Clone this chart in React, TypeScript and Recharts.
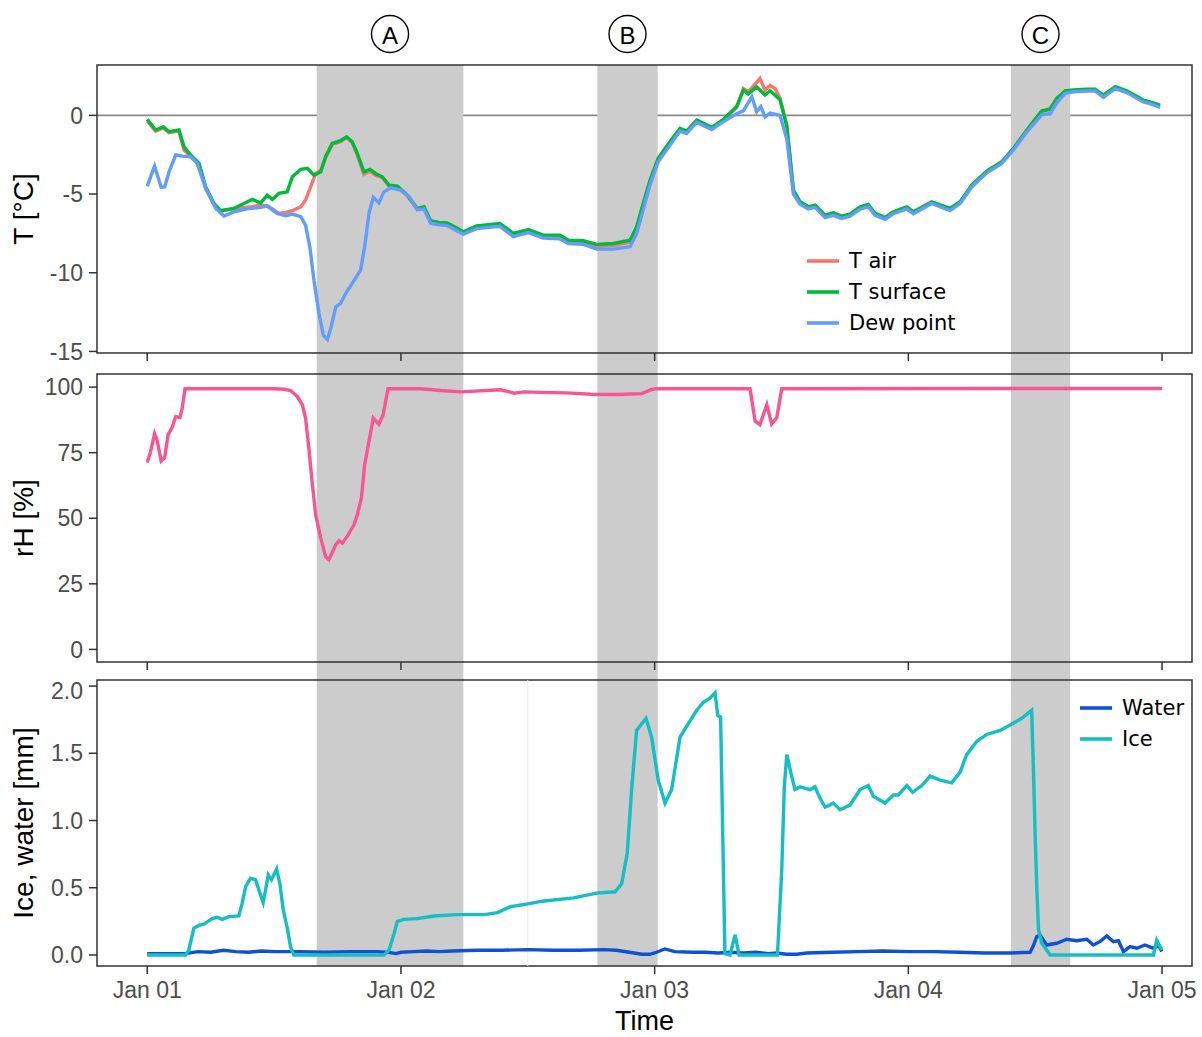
import React from 'react';
import { LineChart, Line, XAxis, YAxis, ReferenceArea, ReferenceLine, Legend } from 'recharts';

// ---------- data ----------
const dayTicks = [0, 1, 2, 3, 4];
const dayLabels = ['Jan 01', 'Jan 02', 'Jan 03', 'Jan 04', 'Jan 05'];
const tempTicks = [-15, -10, -5, 0];
const rhTicks = [0, 25, 50, 75, 100];
const iceTicks = [0, 0.5, 1, 1.5, 2];

const eventNames = ['A', 'B', 'C'];
const eventStart = [0.668, 1.774, 3.404];
const eventEnd = [1.246, 2.012, 3.638];

const tempSeriesNames = ['T air', 'T surface', 'Dew point'];
const depthSeriesNames = ['Water', 'Ice'];

const tSurface: [number, number][] = [
  [0, -0.25], [0.033, -0.93], [0.063, -0.72], [0.086, -1.04], [0.125, -0.93], [0.145, -2.0], [0.171, -2.52],
  [0.204, -3.05], [0.23, -4.54], [0.263, -5.6], [0.289, -6.06], [0.342, -5.91], [0.381, -5.6], [0.414, -5.34],
  [0.447, -5.56], [0.473, -5.07], [0.493, -5.34], [0.519, -4.96], [0.552, -4.86], [0.572, -3.9], [0.605, -3.43],
  [0.631, -3.37], [0.657, -3.8], [0.684, -3.59], [0.703, -2.63], [0.729, -1.78], [0.762, -1.61], [0.786, -1.36],
  [0.808, -1.68], [0.828, -2.42], [0.854, -3.59], [0.878, -3.43], [0.9, -3.69], [0.926, -3.9], [0.953, -4.43],
  [0.986, -4.49], [1.025, -5.07], [1.064, -5.91], [1.091, -5.81], [1.117, -6.7], [1.15, -6.8], [1.182, -6.83],
  [1.222, -7.18], [1.246, -7.4], [1.298, -7.02], [1.39, -6.87], [1.443, -7.5], [1.502, -7.25], [1.561, -7.61],
  [1.627, -7.61], [1.66, -7.93], [1.719, -7.97], [1.772, -8.2], [1.837, -8.14], [1.903, -7.93], [1.929, -7.08],
  [1.955, -5.6], [1.982, -4.11], [2.014, -2.73], [2.06, -1.68], [2.1, -0.83], [2.126, -1.0], [2.166, -0.3],
  [2.225, -0.76], [2.271, -0.25], [2.323, 0.55], [2.35, 1.61], [2.369, 1.35], [2.402, 1.82], [2.435, 1.29],
  [2.455, 1.56], [2.494, 1.0], [2.521, -0.72], [2.547, -4.75], [2.573, -5.49], [2.606, -5.81], [2.632, -5.7],
  [2.672, -6.34], [2.704, -6.19], [2.737, -6.4], [2.77, -6.27], [2.81, -5.81], [2.842, -5.66], [2.869, -6.23],
  [2.908, -6.48], [2.941, -6.13], [2.994, -5.81], [3.02, -6.13], [3.092, -5.49], [3.164, -5.91], [3.204, -5.49],
  [3.25, -4.43], [3.309, -3.54], [3.368, -2.95], [3.414, -2.1], [3.467, -0.93], [3.526, 0.29], [3.559, 0.38],
  [3.585, 1.08], [3.618, 1.56], [3.65, 1.61], [3.703, 1.67], [3.736, 1.67], [3.769, 1.29], [3.815, 1.82],
  [3.861, 1.56], [3.926, 0.97], [3.953, 0.86], [3.992, 0.65],
];

const tAir: [number, number][] = [
  [0, -0.35], [0.033, -1.0], [0.063, -0.8], [0.086, -1.1], [0.125, -1.0], [0.145, -2.2], [0.171, -2.6],
  [0.204, -3.1], [0.23, -4.6], [0.263, -5.65], [0.289, -6.06], [0.342, -5.95], [0.381, -5.85], [0.414, -5.8],
  [0.447, -5.7], [0.473, -5.75], [0.493, -5.95], [0.519, -6.23], [0.552, -6.15], [0.572, -6.06], [0.605, -5.81],
  [0.624, -5.38], [0.644, -4.54], [0.664, -3.69], [0.684, -3.5], [0.703, -2.7], [0.729, -1.85], [0.762, -1.68],
  [0.786, -1.4], [0.808, -1.75], [0.828, -2.5], [0.854, -3.75], [0.878, -3.55], [0.9, -3.8], [0.926, -3.95],
  [0.953, -4.5], [0.986, -4.55], [1.025, -5.1], [1.064, -5.95], [1.091, -5.85], [1.117, -6.75], [1.15, -6.85],
  [1.182, -6.88], [1.222, -7.22], [1.246, -7.45], [1.298, -7.07], [1.39, -6.92], [1.443, -7.55], [1.502, -7.32],
  [1.561, -7.68], [1.627, -7.7], [1.66, -8.02], [1.719, -8.05], [1.772, -8.32], [1.837, -8.28], [1.903, -8.05],
  [1.929, -7.2], [1.955, -5.7], [1.982, -4.15], [2.014, -2.78], [2.06, -1.72], [2.1, -0.88], [2.126, -1.05],
  [2.166, -0.35], [2.225, -0.8], [2.271, -0.3], [2.323, 0.5], [2.35, 1.7], [2.369, 1.5], [2.402, 2.1],
  [2.415, 2.35], [2.435, 1.6], [2.455, 1.9], [2.475, 1.7], [2.494, 1.1], [2.521, -0.6], [2.547, -4.8],
  [2.573, -5.52], [2.606, -5.84], [2.632, -5.74], [2.672, -6.38], [2.704, -6.22], [2.737, -6.44], [2.77, -6.3],
  [2.81, -5.85], [2.842, -5.7], [2.869, -6.27], [2.908, -6.52], [2.941, -6.17], [2.994, -5.85], [3.02, -6.17],
  [3.092, -5.53], [3.164, -5.95], [3.204, -5.53], [3.25, -4.47], [3.309, -3.58], [3.368, -2.99], [3.414, -2.14],
  [3.467, -0.97], [3.526, 0.25], [3.559, 0.45], [3.585, 1.04], [3.618, 1.52], [3.65, 1.57], [3.703, 1.63],
  [3.736, 1.63], [3.769, 1.25], [3.815, 1.78], [3.861, 1.52], [3.926, 0.93], [3.953, 0.82], [3.992, 0.61],
];

const dewPoint: [number, number][] = [
  [0, -4.5], [0.029, -3.22], [0.055, -4.58], [0.069, -4.54], [0.086, -3.59], [0.112, -2.52], [0.138, -2.59],
  [0.171, -2.63], [0.197, -3.05], [0.23, -4.64], [0.27, -5.91], [0.302, -6.4], [0.342, -6.13], [0.394, -5.94],
  [0.447, -5.85], [0.473, -5.77], [0.512, -6.23], [0.546, -6.38], [0.572, -6.27], [0.605, -6.44], [0.624, -6.97],
  [0.641, -8.35], [0.657, -10.47], [0.677, -12.59], [0.694, -13.97], [0.71, -14.24], [0.725, -13.44],
  [0.743, -12.17], [0.762, -11.95], [0.782, -11.32], [0.808, -10.68], [0.841, -9.83], [0.857, -8.35],
  [0.874, -6.23], [0.891, -5.21], [0.913, -5.56], [0.933, -4.86], [0.96, -4.6], [0.999, -4.75], [1.032, -5.17],
  [1.064, -6.0], [1.091, -5.95], [1.117, -6.85], [1.15, -6.95], [1.182, -7.0], [1.222, -7.35], [1.246, -7.55],
  [1.298, -7.2], [1.39, -7.05], [1.443, -7.7], [1.502, -7.45], [1.561, -7.8], [1.627, -7.85], [1.66, -8.15],
  [1.719, -8.2], [1.772, -8.5], [1.837, -8.5], [1.903, -8.35], [1.929, -7.5], [1.955, -6.0], [1.982, -4.4],
  [2.014, -2.95], [2.06, -1.9], [2.1, -1.0], [2.126, -1.15], [2.166, -0.45], [2.225, -0.9], [2.271, -0.4],
  [2.323, 0.1], [2.35, 0.3], [2.383, 1.18], [2.402, 0.23], [2.418, 0.55], [2.435, -0.09], [2.455, 0.15],
  [2.494, 0.0], [2.521, -1.5], [2.547, -5.0], [2.573, -5.65], [2.606, -5.95], [2.632, -5.85], [2.672, -6.5],
  [2.704, -6.35], [2.737, -6.55], [2.77, -6.4], [2.81, -5.95], [2.842, -5.8], [2.869, -6.35], [2.908, -6.6],
  [2.941, -6.25], [2.994, -5.95], [3.02, -6.25], [3.092, -5.6], [3.164, -6.05], [3.204, -5.6], [3.25, -4.55],
  [3.309, -3.65], [3.368, -3.05], [3.414, -2.2], [3.467, -1.05], [3.526, 0.05], [3.559, 0.1], [3.585, 0.8],
  [3.618, 1.4], [3.65, 1.5], [3.703, 1.55], [3.736, 1.55], [3.769, 1.15], [3.815, 1.7], [3.861, 1.45],
  [3.926, 0.85], [3.953, 0.75], [3.992, 0.5],
];

const relHum: [number, number][] = [
  [0, 71.3], [0.013, 75.3], [0.029, 82.3], [0.039, 79.8], [0.055, 71.8], [0.069, 73.1], [0.082, 81.8],
  [0.099, 84.9], [0.112, 88.8], [0.129, 88.4], [0.138, 92], [0.149, 99.4], [0.499, 99.4], [0.539, 99.2],
  [0.565, 98.7], [0.591, 96.5], [0.611, 93.3], [0.624, 88.2], [0.637, 76.8], [0.651, 62.8], [0.664, 51.3],
  [0.684, 42.4], [0.703, 35.4], [0.716, 34.2], [0.743, 39.9], [0.756, 41.4], [0.769, 40.5], [0.788, 43.1],
  [0.815, 47.5], [0.828, 51.3], [0.844, 57.7], [0.857, 70.4], [0.874, 79.3], [0.891, 88.2], [0.913, 85.9],
  [0.93, 89.5], [0.949, 99.4], [1.078, 99.4], [1.157, 98.7], [1.235, 98.2], [1.393, 99.0], [1.446, 97.7],
  [1.485, 98.2], [1.55, 98.0], [1.65, 97.8], [1.75, 97.3], [1.85, 97.2], [1.95, 97.5], [1.985, 99.0],
  [2.005, 99.4], [2.376, 99.4], [2.396, 87], [2.415, 85.7], [2.442, 93.3], [2.461, 86], [2.481, 88.2],
  [2.501, 99.4], [4.0, 99.5],
];

const iceDepth: [number, number][] = [
  [0, 0], [0.151, 0], [0.164, 0.037], [0.184, 0.2], [0.204, 0.22], [0.224, 0.23], [0.256, 0.27], [0.276, 0.28],
  [0.296, 0.265], [0.322, 0.285], [0.361, 0.29], [0.374, 0.384], [0.388, 0.51], [0.407, 0.57], [0.427, 0.56],
  [0.444, 0.46], [0.457, 0.39], [0.471, 0.53], [0.477, 0.595], [0.49, 0.56], [0.51, 0.64], [0.523, 0.53],
  [0.536, 0.335], [0.552, 0.2], [0.565, 0.06], [0.578, 0], [0.933, 0], [0.953, 0.037], [0.973, 0.16],
  [0.986, 0.25], [1.012, 0.265], [1.064, 0.27], [1.13, 0.29], [1.222, 0.3], [1.327, 0.3], [1.38, 0.315],
  [1.433, 0.36], [1.485, 0.375], [1.557, 0.4], [1.68, 0.425], [1.772, 0.46], [1.844, 0.47], [1.87, 0.53],
  [1.892, 0.756], [1.91, 1.25], [1.929, 1.67], [1.966, 1.76], [1.988, 1.62], [2.014, 1.3], [2.041, 1.13],
  [2.067, 1.23], [2.1, 1.62], [2.126, 1.7], [2.166, 1.82], [2.192, 1.88], [2.218, 1.91], [2.238, 1.95],
  [2.249, 1.78], [2.26, 1.77], [2.277, 0.01], [2.297, 0], [2.317, 0.15], [2.333, 0], [2.484, 0], [2.501, 0.63],
  [2.511, 1.25], [2.521, 1.49], [2.54, 1.33], [2.553, 1.23], [2.573, 1.25], [2.612, 1.23], [2.632, 1.25],
  [2.652, 1.165], [2.672, 1.1], [2.685, 1.11], [2.704, 1.13], [2.731, 1.08], [2.77, 1.115], [2.81, 1.23],
  [2.842, 1.26], [2.862, 1.18], [2.908, 1.13], [2.941, 1.19], [2.96, 1.19], [2.994, 1.26], [3.017, 1.21],
  [3.053, 1.26], [3.086, 1.33], [3.125, 1.3], [3.171, 1.28], [3.204, 1.36], [3.23, 1.49], [3.27, 1.59],
  [3.309, 1.64], [3.362, 1.67], [3.401, 1.71], [3.447, 1.76], [3.486, 1.82], [3.493, 1.375], [3.5, 0.88],
  [3.506, 0.51], [3.513, 0.19], [3.526, 0.087], [3.559, 0], [3.966, 0], [3.979, 0.11], [3.999, 0.037],
];

const waterDepth: [number, number][] = [
  [0, 0.01], [0.15, 0.01], [0.2, 0.025], [0.25, 0.02], [0.3, 0.035], [0.35, 0.025], [0.4, 0.02], [0.45, 0.03],
  [0.5, 0.025], [0.6, 0.025], [0.7, 0.02], [0.8, 0.025], [0.9, 0.025], [0.95, 0.02], [0.98, 0.01], [1.0, 0.02],
  [1.05, 0.025], [1.1, 0.03], [1.15, 0.025], [1.2, 0.03], [1.3, 0.035], [1.4, 0.035], [1.5, 0.04], [1.6, 0.035],
  [1.7, 0.035], [1.8, 0.04], [1.85, 0.035], [1.9, 0.02], [1.95, 0.005], [1.98, 0.005], [2.0, 0.015],
  [2.04, 0.045], [2.08, 0.025], [2.15, 0.02], [2.2, 0.02], [2.25, 0.015], [2.3, 0.02], [2.35, 0.015],
  [2.4, 0.02], [2.45, 0.01], [2.48, 0.015], [2.52, 0.005], [2.56, 0.005], [2.6, 0.015], [2.7, 0.02],
  [2.8, 0.025], [2.9, 0.03], [3.0, 0.025], [3.1, 0.025], [3.2, 0.02], [3.3, 0.015], [3.4, 0.015], [3.48, 0.02],
  [3.493, 0.07], [3.506, 0.136], [3.519, 0.149], [3.545, 0.074], [3.585, 0.087], [3.624, 0.117], [3.663, 0.106],
  [3.703, 0.117], [3.729, 0.074], [3.755, 0.099], [3.782, 0.141], [3.808, 0.099], [3.828, 0.106],
  [3.848, 0.025], [3.874, 0.062], [3.9, 0.05], [3.933, 0.074], [3.966, 0.05], [3.986, 0.074], [3.999, 0.025],
];

// ---------- styling ----------
const X_DOMAIN: [number, number] = [-0.198, 4.118];
const T_DOMAIN: [number, number] = [-15.1, 3.2];
const RH_DOMAIN: [number, number] = [-4.8, 105];
const ICE_DOMAIN: [number, number] = [-0.082, 2.045];
const BAND = '#CCCCCC';
const FRAME = '#333333';
const TICK_FONT = "'Liberation Sans', Arial, sans-serif";
const LEG_FONT = "'DejaVu Sans', Verdana, sans-serif";
const W = 1202;
const YW = 97;
const RIGHT = 10;
const LW = 3.4;

const toPts = (arr: [number, number][]) => arr.map(([t, v]) => ({ t, v }));

const tickStyle = { fill: '#4D4D4D', fontSize: 23, fontFamily: TICK_FONT };
const tickLine = { stroke: FRAME, strokeWidth: 1.5 };

const yTitle = (text: string) => (p: any) => {
  const vb = p.viewBox ?? p;
  const x = vb.x + 33;
  const y = vb.y + vb.height / 2;
  return (
    <text x={x} y={y} transform={`rotate(-90, ${x}, ${y})`} textAnchor="middle"
      fontSize={28} fontFamily={TICK_FONT} fill="#000">{text}</text>
  );
};

const xTitle = (p: any) => {
  const vb = p.viewBox ?? p;
  return (
    <text x={vb.x + vb.width / 2} y={vb.y + 64} textAnchor="middle" fontSize={27}
      fontFamily={TICK_FONT} fill="#000">Time</text>
  );
};

const eventLabel = (text: string) => (p: any) => {
  const vb = p.viewBox ?? p;
  const cx = vb.x + vb.width / 2;
  const cy = vb.y - 31;
  return (
    <g>
      <circle cx={cx} cy={cy} r={18.5} fill="none" stroke="#000" strokeWidth={1.4} />
      <text x={cx} y={cy + 1} textAnchor="middle" dominantBaseline="central" fontSize={24}
        fontFamily={TICK_FONT} fill="#000">{text}</text>
    </g>
  );
};

const makeLegend = (order: string[]) => (props: any) => {
  const payload = [...(props.payload || [])].sort(
    (a: any, b: any) => order.indexOf(a.value) - order.indexOf(b.value));
  return (
    <div style={{ fontFamily: LEG_FONT, fontSize: 21, color: '#000' }}>
      {payload.map((p: any) => (
        <div key={p.value} style={{ display: 'flex', alignItems: 'center', height: 31 }}>
          <svg width={32} height={6} style={{ display: 'block' }}>
            <line x1={0} x2={32} y1={3} y2={3} stroke={p.color} strokeWidth={3.6} />
          </svg>
          <span style={{ marginLeft: 10, whiteSpace: 'nowrap' }}>{p.value}</span>
        </div>
      ))}
    </div>
  );
};

const bands = (yLow: number, yHigh: number, withLabels: boolean) =>
  eventNames.map((name, i) => (
    <ReferenceArea key={name} x1={eventStart[i]} x2={eventEnd[i]} y1={yLow} y2={yHigh}
      fill={BAND} fillOpacity={1} stroke="none" ifOverflow="visible"
      label={withLabels ? eventLabel(name) : undefined} />
  ));

const frame = (dom: [number, number]) => (
  <ReferenceArea x1={X_DOMAIN[0]} x2={X_DOMAIN[1]} y1={dom[0]} y2={dom[1]} fill="none"
    stroke={FRAME} strokeWidth={1.5} ifOverflow="visible" />
);

export default function App() {
  const fmtDay = (v: number) => dayLabels[dayTicks.indexOf(v)] ?? '';
  return (
    <div style={{ position: 'relative', width: W, height: 1037, background: '#fff' }}>
      <style>{'body{margin:0;background:#fff}'}</style>

      {/* Panel 1: temperatures */}
      <div style={{ position: 'absolute', left: 0, top: 0 }}>
        <LineChart width={W} height={374} margin={{ top: 65, right: RIGHT, bottom: 0, left: 0 }}>
          <ReferenceArea x1={X_DOMAIN[0]} x2={X_DOMAIN[1]} y1={-0.05} y2={0.05} fill="#8A8A8A"
            fillOpacity={1} stroke="none" ifOverflow="visible" />
          {bands(-17, T_DOMAIN[1], true)}
          <Line data={toPts(tAir)} dataKey="v" name={tempSeriesNames[0]} stroke="#F8766D" strokeWidth={LW}
            dot={false} activeDot={false} isAnimationActive={false} type="linear" />
          <Line data={toPts(tSurface)} dataKey="v" name={tempSeriesNames[1]} stroke="#00BA38" strokeWidth={LW}
            dot={false} activeDot={false} isAnimationActive={false} type="linear" />
          <Line data={toPts(dewPoint)} dataKey="v" name={tempSeriesNames[2]} stroke="#619CFF" strokeWidth={LW}
            dot={false} activeDot={false} isAnimationActive={false} type="linear" />
          {frame(T_DOMAIN)}
          <XAxis dataKey="t" type="number" domain={X_DOMAIN} allowDataOverflow ticks={dayTicks}
            tickFormatter={() => ''} axisLine={false} tickLine={tickLine} tickSize={8} height={21} />
          <YAxis type="number" domain={T_DOMAIN} allowDataOverflow ticks={tempTicks} width={YW}
            axisLine={false} tickLine={tickLine} tickSize={8} tickMargin={6} tick={tickStyle}
            label={yTitle('T [°C]')} />
          <Legend layout="vertical" align="center" verticalAlign="middle"
            content={makeLegend(tempSeriesNames)}
            wrapperStyle={{ left: 807, top: 245.5, width: 'auto' }} />
        </LineChart>
      </div>

      {/* Panel 2: relative humidity */}
      <div style={{ position: 'absolute', left: 0, top: 372 }}>
        <LineChart width={W} height={308} margin={{ top: 2, right: RIGHT, bottom: 0, left: 0 }}>
          {bands(-12, RH_DOMAIN[1], false)}
          <Line data={toPts(relHum)} dataKey="v" name="rH" stroke="#FA5591" strokeWidth={LW}
            dot={false} activeDot={false} isAnimationActive={false} type="linear" />
          {frame(RH_DOMAIN)}
          <XAxis dataKey="t" type="number" domain={X_DOMAIN} allowDataOverflow ticks={dayTicks}
            tickFormatter={() => ''} axisLine={false} tickLine={tickLine} tickSize={8} height={18} />
          <YAxis type="number" domain={RH_DOMAIN} allowDataOverflow ticks={rhTicks} width={YW}
            axisLine={false} tickLine={tickLine} tickSize={8} tickMargin={6} tick={tickStyle}
            label={yTitle('rH [%]')} />
        </LineChart>
      </div>

      {/* Panel 3: ice & water */}
      <div style={{ position: 'absolute', left: 0, top: 678 }}>
        <LineChart width={W} height={359} margin={{ top: 2, right: RIGHT, bottom: 0, left: 0 }}>
          {bands(ICE_DOMAIN[0], ICE_DOMAIN[1], false)}
          <ReferenceLine x={1.5} stroke="#EBEBEB" strokeWidth={1} ifOverflow="visible" />
          <Line data={toPts(waterDepth)} dataKey="v" name={depthSeriesNames[0]} stroke="#0D52D6" strokeWidth={LW}
            dot={false} activeDot={false} isAnimationActive={false} type="linear" />
          <Line data={toPts(iceDepth)} dataKey="v" name={depthSeriesNames[1]} stroke="#14BEC3" strokeWidth={LW}
            dot={false} activeDot={false} isAnimationActive={false} type="linear" />
          {frame(ICE_DOMAIN)}
          <XAxis dataKey="t" type="number" domain={X_DOMAIN} allowDataOverflow ticks={dayTicks}
            tickFormatter={fmtDay} axisLine={false} tickLine={tickLine} tickSize={8} tickMargin={8}
            tick={tickStyle} height={71} label={xTitle} />
          <YAxis type="number" domain={ICE_DOMAIN} allowDataOverflow ticks={iceTicks} width={YW}
            axisLine={false} tickLine={tickLine} tickSize={8} tickMargin={6} tick={tickStyle}
            tickFormatter={(v: number) => v.toFixed(1)} label={yTitle('Ice, water [mm]')} />
          <Legend layout="vertical" align="center" verticalAlign="middle"
            content={makeLegend(depthSeriesNames)}
            wrapperStyle={{ left: 1080, top: 14.5, width: 'auto' }} />
        </LineChart>
      </div>
    </div>
  );
}
